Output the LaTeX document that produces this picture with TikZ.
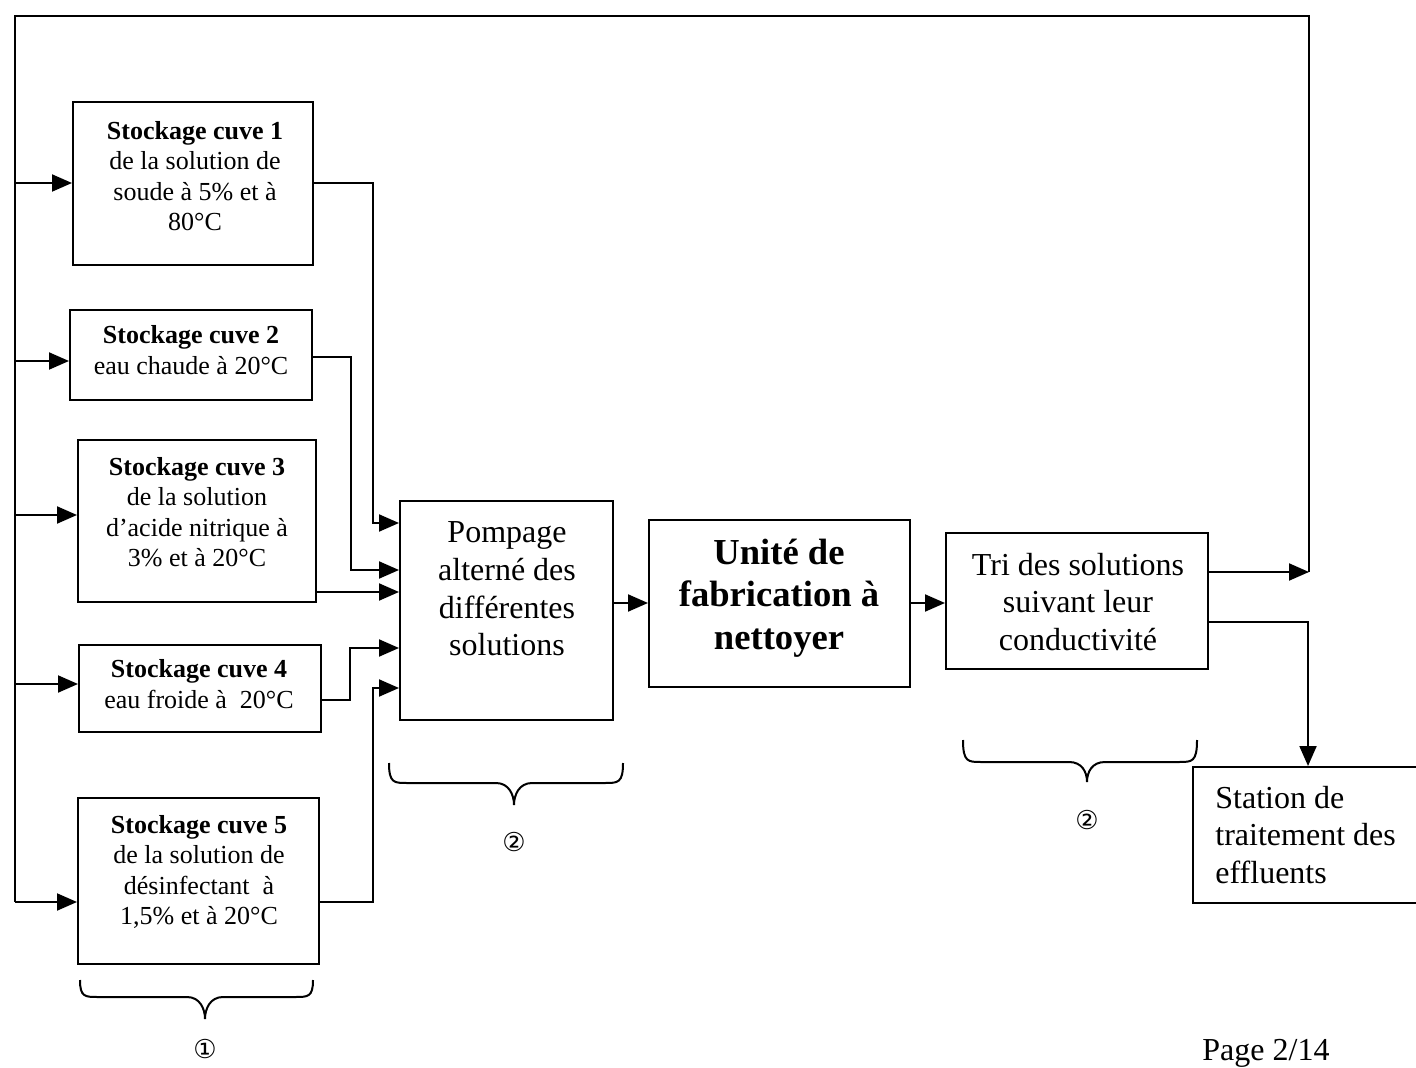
\documentclass[tikz,border=0pt]{standalone}
\usepackage{fontspec}
\setmainfont{Liberation Serif}
\newfontfamily\dejavu{DejaVu Sans}
\usetikzlibrary{arrows.meta}
\newcommand\mybrace[6]{%
  \draw[ln] (#1,#4) .. controls (#1,#5) and ({#1+5},#5) .. ({#1+18},#5)
    -- ({#3-18},#5) .. controls ({#3-5},#5) and (#3,{#6-10}) .. (#3,#6)
    .. controls (#3,{#6-10}) and ({#3+5},#5) .. ({#3+18},#5)
    -- ({#2-18},#5) .. controls ({#2-5},#5) and (#2,#5) .. (#2,#4);}
\begin{document}
\begin{tikzpicture}[x=0.5pt,y=-0.5pt,
  ln/.style={line width=1pt},
  arr/.style={line width=1pt,-{Triangle[length=10pt,width=8.5pt]}},
  box/.style={draw,line width=1pt,rectangle,inner sep=0pt},
  smalltxt/.style={align=center,inner sep=0pt,font=\fontsize{13}{15.25}\selectfont},
  bigtxt/.style={align=center,inner sep=0pt,font=\fontsize{16}{18.8}\selectfont},
  boldtxt/.style={align=center,inner sep=0pt,font=\bfseries\fontsize{18.3}{21.2}\selectfont},
  circnum/.style={inner sep=0pt,font=\dejavu\fontsize{13}{15}\selectfont}]
\useasboundingbox (0,0) rectangle (1416,1068);
\clip (0,0) rectangle (1416,1068);

% boxes
\node[box,minimum width=120pt,minimum height=81.5pt] (b1) at (193,184) {};
\node[box,minimum width=121pt,minimum height=45pt] (b2) at (191,355) {};
\node[box,minimum width=119pt,minimum height=81pt] (b3) at (197,521) {};
\node[box,minimum width=121pt,minimum height=43.5pt] (b4) at (200,688.5) {};
\node[box,minimum width=120.5pt,minimum height=83pt] (b5) at (198.5,881) {};
\node[box,minimum width=106.5pt,minimum height=109.5pt] (P) at (506.5,610.5) {};
\node[box,minimum width=130.5pt,minimum height=83.5pt] (U) at (779.5,603.5) {};
\node[box,minimum width=131pt,minimum height=68pt] (T) at (1077,601) {};
\node[box,minimum width=123.5pt,minimum height=68pt] (S) at (1316.5,835) {};

% texts
\node[smalltxt] (b1t) at (195,176) {\textbf{Stockage cuve 1}\\de la solution de\\soude à 5\% et à\\80°C};
\node[smalltxt] (b2t) at (191,350) {\textbf{Stockage cuve 2}\\eau chaude à 20°C};
\node[smalltxt] (b3t) at (197,512) {\textbf{Stockage cuve 3}\\de la solution\\d’acide nitrique à\\3\% et à 20°C};
\node[smalltxt] (b4t) at (199,684) {\textbf{Stockage cuve 4}\\eau froide à~ 20°C};
\node[smalltxt] (b5t) at (199,872) {\textbf{Stockage cuve 5}\\de la solution de\\désinfectant~ à\\1,5\% et à 20°C};
\node[bigtxt] (Pt) at (507,589) {Pompage\\alterné des\\différentes\\solutions};
\node[boldtxt] (Ut) at (779,598) {Unité de\\fabrication à\\nettoyer};
\node[bigtxt] (Tt) at (1078,602) {Tri des solutions\\suivant leur\\conductivité};
\node[bigtxt,align=left,anchor=west] (St) at (1215,835) {Station de\\traitement des\\effluents};

% return bus
\coordinate (TL) at (15,16);
\coordinate (TR) at (1309,16);
\coordinate (R) at (1309,572);
\coordinate (BL) at (15,902);
\draw[ln] (R) -- (TR) -- (TL) -- (BL);
\draw[arr] (T.east |- R) -- (R);

% feed arrows
\draw[arr] (TL |- 0,183) -- (b1.west |- 0,183);
\draw[arr] (TL |- 0,361) -- (b2.west |- 0,361);
\draw[arr] (TL |- 0,515) -- (b3.west |- 0,515);
\draw[arr] (TL |- 0,684) -- (b4.west |- 0,684);
\draw[arr] (BL) -- (b5.west |- BL);

% to pump
\draw[arr] (b1.east |- 0,183) -| (373,523) -- (P.west |- 0,523);
\draw[arr] (b2.east |- 0,357) -| (351,570) -- (P.west |- 0,570);
\draw[arr] (b3.east |- 0,592) -- (P.west |- 0,592);
\draw[arr] (b4.east |- 0,700) -| (350,648) -- (P.west |- 0,648);
\draw[arr] (b5.east |- BL) -| (373,688) -- (P.west |- 0,688);

% main chain
\draw[arr] (P.east |- 0,603) -- (U.west |- 0,603);
\draw[arr] (U.east |- 0,603) -- (T.west |- 0,603);
\draw[arr] (T.east |- 0,622) -| (S.north -| 1308,0);

% braces
\mybrace{80}{313}{205}{980}{997}{1019}
\mybrace{389}{623}{514}{763}{783}{805}
\mybrace{963}{1197}{1087}{740}{762}{782}
\node[circnum] (n1) at (205,1049) {①};
\node[circnum] (n2) at (514,842) {②};
\node[circnum] (n3) at (1087,820) {②};

\node[anchor=base west,inner sep=0pt,font=\fontsize{16}{19}\selectfont] (pg) at (1202,1060) {Page 2/14};
\end{tikzpicture}
\end{document}
